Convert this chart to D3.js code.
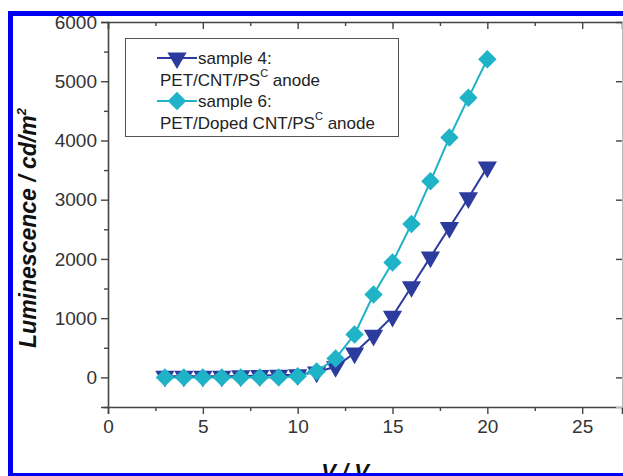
<!DOCTYPE html>
<html><head><meta charset="utf-8">
<script src="https://cdn.jsdelivr.net/npm/d3@7"></script>
<style>body{margin:0;background:#fff}svg{display:block}</style>
</head><body>
<svg id="c" width="623" height="476"></svg>
<script>
const voltage = [3,4,5,6,7,8,9,10,11,12,13,14,15,16,17,18,19,20];
const sample4 = [20,20,20,20,25,30,35,45,90,180,410,710,1030,1530,2030,2530,3030,3550];
const sample6 = [0,0,0,0,0,0,0,20,100,320,725,1400,1940,2590,3310,4050,4720,5370];
const xTicks = [0,5,10,15,20,25];
const yTicks = [0,1000,2000,3000,4000,5000,6000];
const seriesNames = ["sample 4:", "sample 6:"];
const seriesSub = ["PET/CNT/PS", "PET/Doped CNT/PS"];
const colors = ["#2c3b9e", "#1fb3c7"];

const svg = d3.select("#c");
const L = 108, R = 622, T = 22, B = 407;
const x = d3.scaleLinear().domain([0, 27.1]).range([L, R]);
const y = d3.scaleLinear().domain([-500, 6000]).range([B, T]);
const axisColor = "#444";
const font = "'Liberation Sans', Arial, sans-serif";

function styleAxis(g){
  g.select(".domain").attr("stroke", axisColor).attr("stroke-width", 1.6);
  g.selectAll(".tick line").attr("stroke", axisColor).attr("stroke-width", 1.4);
  g.selectAll(".tick text").attr("fill", "#333").style("font-family", font).style("font-size", "19px");
}
const xMinor = d3.range(0, 27.1, 2.5).filter(v => v % 5 !== 0);
const yMinor = d3.range(-500, 6001, 500).filter(v => v % 1000 !== 0);

// bottom
const gb = svg.append("g").attr("transform", `translate(0,${B})`)
  .call(d3.axisBottom(x).tickValues(xTicks).tickSize(7).tickPadding(6).tickFormat(d3.format("d")));
styleAxis(gb);
svg.append("g").attr("transform", `translate(0,${B})`)
  .call(d3.axisBottom(x).tickValues(xMinor).tickSize(4).tickFormat(""))
  .call(g => { g.select(".domain").remove(); g.selectAll("line").attr("stroke", axisColor).attr("stroke-width", 1.4); });
// top
const gt = svg.append("g").attr("transform", `translate(0,${T})`)
  .call(d3.axisBottom(x).tickValues(xTicks).tickSize(7).tickFormat(""));
styleAxis(gt);
svg.append("g").attr("transform", `translate(0,${T})`)
  .call(d3.axisBottom(x).tickValues(xMinor).tickSize(4).tickFormat(""))
  .call(g => { g.select(".domain").remove(); g.selectAll("line").attr("stroke", axisColor).attr("stroke-width", 1.4); });
// left
const gl = svg.append("g").attr("transform", `translate(${L},0)`)
  .call(d3.axisLeft(y).tickValues(yTicks).tickSize(7).tickPadding(4).tickFormat(d3.format("d")));
styleAxis(gl);
svg.append("g").attr("transform", `translate(${L},0)`)
  .call(d3.axisLeft(y).tickValues(yMinor).tickSize(4).tickFormat(""))
  .call(g => { g.select(".domain").remove(); g.selectAll("line").attr("stroke", axisColor).attr("stroke-width", 1.4); });
// right
const gr = svg.append("g").attr("transform", `translate(${R},0)`)
  .call(d3.axisLeft(y).tickValues(yTicks).tickSize(6).tickFormat(""));
styleAxis(gr);
gr.select(".domain").attr("stroke", "#bbb").attr("stroke-width", 1);

// series
const data4 = voltage.map((v,i) => [v, sample4[i]]);
const data6 = voltage.map((v,i) => [v, sample6[i]]);
const line = d3.line().x(d => x(d[0])).y(d => y(d[1]));
const tri = d3.symbol().type(d3.symbolTriangle).size(160);
const dia = d3.symbol().type(d3.symbolSquare).size(170);

function drawSeries(data, color, kind){
  svg.append("path").datum(data).attr("d", line).attr("fill", "none").attr("stroke", color).attr("stroke-width", 2);
  svg.selectAll(null).data(data).enter().append("path")
    .attr("d", kind === "tri" ? tri : dia)
    .attr("transform", d => `translate(${x(d[0])},${y(d[1])}) rotate(${kind === "tri" ? 180 : 45})`)
    .attr("fill", color);
}
drawSeries(data4, colors[0], "tri");
drawSeries(data6, colors[1], "dia");

// legend
svg.append("rect").attr("x", 125.5).attr("y", 38.5).attr("width", 273).attr("height", 98)
  .attr("fill", "#fff").attr("stroke", "#555").attr("stroke-width", 1);
const legY = [58, 101];
[0,1].forEach(i => {
  const g = svg.append("g");
  g.append("line").attr("x1", 157).attr("x2", 197).attr("y1", legY[i]).attr("y2", legY[i])
    .attr("stroke", colors[i]).attr("stroke-width", 2);
  g.append("path").attr("d", i === 0 ? tri : dia)
    .attr("transform", `translate(177,${legY[i]}) rotate(${i === 0 ? 180 : 45})`).attr("fill", colors[i]);
  g.append("text").attr("x", 198).attr("y", legY[i] + 6).text(seriesNames[i])
    .attr("fill", "#222").style("font-family", font).style("font-size", "17px");
  const t = g.append("text").attr("x", 160).attr("y", legY[i] + 28)
    .attr("fill", "#222").style("font-family", font).style("font-size", "17px");
  t.append("tspan").text(seriesSub[i]);
  t.append("tspan").text("C").attr("dy", -9).style("font-size", "11px");
  t.append("tspan").text(" anode").attr("dy", 9);
});

// axis titles
const yt = svg.append("text").attr("transform", "translate(36,228) rotate(-90)")
  .attr("text-anchor", "middle").attr("fill", "#111")
  .style("font-family", font).style("font-size", "23px").style("font-weight", "bold").style("font-style", "italic");
yt.append("tspan").text("Luminescence / cd/m");
yt.append("tspan").text("2").attr("dy", -10).style("font-size", "13px");
svg.append("text").attr("x", 345).attr("y", 479).attr("text-anchor", "middle").attr("fill", "#111")
  .style("font-family", font).style("font-size", "22px").style("font-weight", "bold").style("font-style", "italic")
  .text("V / V");

// blue frame
svg.append("rect").attr("x", 8).attr("y", 11).attr("width", 5).attr("height", 465).attr("fill", "#0000f0");
svg.append("rect").attr("x", 8).attr("y", 11).attr("width", 615).attr("height", 5).attr("fill", "#0000f0");
svg.append("rect").attr("x", 8).attr("y", 473).attr("width", 615).attr("height", 3).attr("fill", "#0000f0");
</script>
</body></html>
